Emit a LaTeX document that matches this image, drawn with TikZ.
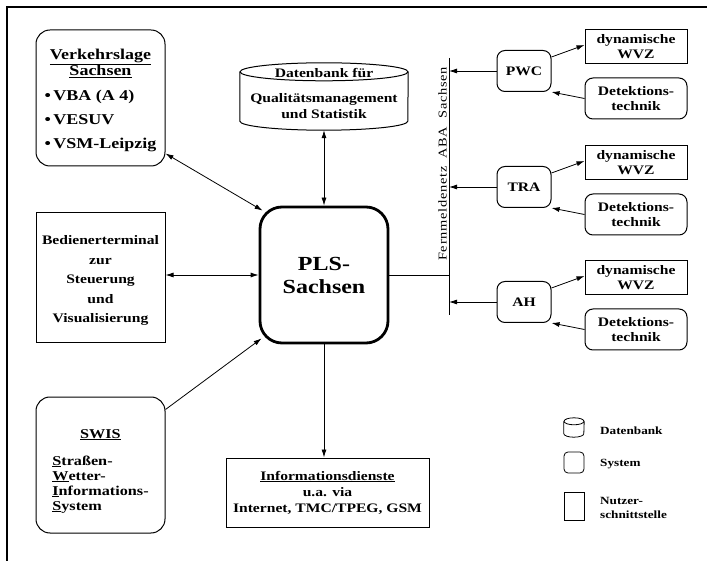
\documentclass[tikz,border=0pt]{standalone}
\usepackage{fontspec}
\setmainfont{Liberation Serif}[FakeStretch=1.2]
\usepackage{tikz}
\usetikzlibrary{arrows.meta}
\usetikzlibrary{calc}

\tikzset{
  kasten/.style={draw, line width=1pt, align=center, inner sep=2pt, font=\fontsize{13}{16}\selectfont\bfseries},
  systembox/.style={kasten, rounded corners=14pt},
  nutzerbox/.style={kasten},
  pfeil/.style={line width=0.8pt, -{Latex[length=8pt,width=5pt]}},
  doppelpfeil/.style={line width=0.8pt, {Latex[length=8pt,width=5pt]}-{Latex[length=8pt,width=5pt]}},
  legtext/.style={anchor=west, align=left, inner sep=1pt, font=\fontsize{11}{14}\selectfont\bfseries},
}

\begin{document}
\begin{tikzpicture}[x=1pt,y=-1pt]
      \useasboundingbox (0,0) rectangle (707,561);
      \draw[line width=2.5pt] (707,7) -- (7,7) -- (7,561);

      \node[systembox, minimum width=129, minimum height=136, font=\fontsize{15}{15}\selectfont\bfseries] (verk) at (100.5,98)
        {\raisebox{-3pt}[\height][\depth]{\begin{tabular}{@{}l@{}}
          \multicolumn{1}{@{}c@{}}{\underline{Verkehrslage}}\\[0pt]
          \multicolumn{1}{@{}c@{}}{\underline{Sachsen}}\\[10pt]
          \textbullet\,VBA (A 4)\\[9pt]
          \textbullet\,VESUV\\[9pt]
          \textbullet\,VSM-Leipzig
        \end{tabular}}};
      \node[nutzerbox, minimum width=129, minimum height=130, font=\fontsize{13}{19.5}\selectfont\bfseries] (bed) at (100.5,278)
        {\raisebox{-2pt}[\height][\depth]{\begin{tabular}{@{}c@{}}Bedienerterminal\\zur\\Steuerung\\und\\Visualisierung\end{tabular}}};
      \node[systembox, minimum width=129, minimum height=136, font=\fontsize{13.5}{15}\selectfont\bfseries] (swis) at (100.5,465)
        {\raisebox{-6pt}[\height][\depth]{\begin{tabular}{@{}l@{}}
          \multicolumn{1}{@{}c@{}}{\underline{SWIS}}\\[12pt]
          \underline{S}traßen-\\
          \underline{W}etter-\\
          \underline{I}nformations-\\
          \underline{S}ystem
        \end{tabular}}};

      \node[minimum width=168, minimum height=67, inner sep=0pt] (db) at (324,96.5) {};
      \draw[line width=1pt] ([yshift=-9pt]db.north) ellipse [x radius=84pt, y radius=9pt];
      \draw[line width=1pt] ([yshift=-9pt]db.north west) -- ([yshift=9pt]db.south west)
        arc[start angle=180, end angle=360, x radius=84pt, y radius=9pt] -- ([yshift=-9pt]db.north east);
      \node[kasten, draw=none] (dbtitel) at (324,73) {Datenbank für};
      \node[kasten, draw=none] (dbtext) at (324,106) {Qualitätsmanagement\\und Statistik};

      \node[systembox, line width=2.8pt, rounded corners=22pt, minimum width=128, minimum height=136,
            font=\fontsize{20}{23}\selectfont\bfseries] (pls) at (324,275) {PLS-\\Sachsen};
      \node[nutzerbox, minimum width=203, minimum height=69] (info) at (327.5,492.5)
        {\underline{Informationsdienste}\\u.a. via\\Internet, TMC/TPEG, GSM};

      \coordinate (busoben) at (449,58);
      \coordinate (busunten) at (449,315);
      \draw[line width=1pt] (busoben) -- (busunten);
      \node[rotate=90, anchor=south, inner sep=1pt, font=\fontsize{12}{12}\selectfont\addfontfeature{LetterSpace=6}] (netz) at (448,164)
        {Fernmeldenetz\hspace{8pt}ABA\hspace{8pt}Sachsen};

      \draw[doppelpfeil] ([yshift=13pt]verk.south east) -- ([shift={(4,5)}]pls.north west);
      \draw[doppelpfeil] (bed.east |- pls.west) -- (pls.west);
      \draw[pfeil] ([yshift=-13pt]swis.north east) -- ([shift={(3,-6)}]pls.south west);
      \draw[doppelpfeil] (db.south) -- (db.south |- pls.north);
      \draw[pfeil] (pls.south) -- (pls.south |- info.north);
      \draw[line width=0.8pt] (pls.east) -- (pls.east -| busoben);

      \foreach \name/\lab/\y in {pwc/PWC/71, tra/TRA/187, ah/AH/302}{
        \node[systembox, rounded corners=8pt, minimum width=54, minimum height=41] (\name) at (524,\y) {\lab};
        \node[nutzerbox, minimum width=102, minimum height=34, font=\fontsize{13}{15}\selectfont\bfseries] (wvz\name) at (636,\y-24) {dynamische\\WVZ};
        \node[systembox, rounded corners=8pt, minimum width=102, minimum height=41, font=\fontsize{13}{15}\selectfont\bfseries] (det\name) at (636,\y+27.5) {Detektions-\\technik};
        \draw[pfeil] (\name.west) -- (\name.west -| busoben);
        \draw[pfeil] ([yshift=-7pt]\name.north east) -- ([yshift=2pt]wvz\name.west);
        \draw[pfeil] (det\name.west) -- (\name.south east);
      }

      \node[minimum width=20, minimum height=19, inner sep=0pt] (legdb) at (574,427.5) {};
      \draw[line width=0.8pt] ([yshift=-3.5pt]legdb.north) ellipse [x radius=10pt, y radius=3.5pt];
      \draw[line width=0.8pt] ([yshift=-3.5pt]legdb.north west) -- ([yshift=3.5pt]legdb.south west)
        arc[start angle=180, end angle=360, x radius=10pt, y radius=3.5pt] -- ([yshift=-3.5pt]legdb.north east);
      \node[systembox, line width=0.8pt, rounded corners=4pt, minimum width=20, minimum height=21] (legsys) at (574,462.5) {};
      \node[nutzerbox, line width=0.8pt, minimum width=20, minimum height=28] (legnutz) at (574,506) {};
      \node[legtext] (legdbtext) at (599,431) {Datenbank};
      \node[legtext] (legsystext) at (599,464) {System};
      \node[legtext] (legnutztext) at (599,507.5) {Nutzer-\\schnittstelle};
    \end{tikzpicture}
\end{document}
